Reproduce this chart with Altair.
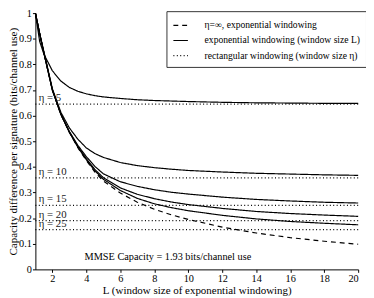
import altair as alt
import pandas as pd

L = [1, 1.25, 1.5, 2, 2.5, 3, 3.5, 4, 4.5, 5, 6, 7, 8, 9, 10, 12, 14, 16, 18, 20]
exp_inf = [1.0, 0.92, 0.845, 0.70, 0.605, 0.535, 0.475, 0.425, 0.38, 0.345, 0.298, 0.262, 0.235, 0.213, 0.195, 0.165, 0.142, 0.124, 0.11, 0.098]
exp_25 = [1.0, 0.92, 0.845, 0.70, 0.605, 0.535, 0.477, 0.428, 0.385, 0.352, 0.308, 0.277, 0.256, 0.241, 0.229, 0.211, 0.197, 0.187, 0.18, 0.174]
exp_20 = [1.0, 0.92, 0.845, 0.70, 0.605, 0.536, 0.479, 0.432, 0.39, 0.358, 0.318, 0.293, 0.276, 0.263, 0.253, 0.238, 0.226, 0.218, 0.212, 0.207]
exp_15 = [1.0, 0.92, 0.845, 0.70, 0.606, 0.538, 0.484, 0.44, 0.402, 0.373, 0.342, 0.324, 0.311, 0.301, 0.294, 0.282, 0.273, 0.267, 0.262, 0.259]
exp_10 = [1.0, 0.922, 0.85, 0.705, 0.613, 0.552, 0.508, 0.474, 0.452, 0.437, 0.417, 0.405, 0.397, 0.391, 0.386, 0.38, 0.375, 0.372, 0.369, 0.367]
exp_5 = [1.0, 0.89, 0.84, 0.775, 0.735, 0.71, 0.695, 0.685, 0.678, 0.673, 0.667, 0.662, 0.659, 0.657, 0.655, 0.652, 0.65, 0.649, 0.648, 0.648]

eta_labels = ["η = 5", "η = 10", "η = 15", "η = 20", "η = 25"]
rect_vals = [0.645, 0.357, 0.25, 0.19, 0.155]

x_ticks = [2, 4, 6, 8, 10, 12, 14, 16, 18, 20]
y_ticks = [0, 0.1, 0.2, 0.3, 0.4, 0.5, 0.6, 0.7, 0.8, 0.9, 1]

kinds = ["η=∞, exponential windowing",
         "exponential windowing (window size L)",
         "rectangular windowing (window size η)"]

rows = []
for name, vals, kind in [("inf", exp_inf, kinds[0]), ("e25", exp_25, kinds[1]),
                         ("e20", exp_20, kinds[1]), ("e15", exp_15, kinds[1]),
                         ("e10", exp_10, kinds[1]), ("e5", exp_5, kinds[1])]:
    for x, v in zip(L, vals):
        rows.append({"L": x, "v": v, "series": name, "kind": kind})
for lab, v in zip(eta_labels, rect_vals):
    for x in (1, 20):
        rows.append({"L": x, "v": v, "series": "r" + lab, "kind": kinds[2]})
df = pd.DataFrame(rows)

lab_df = pd.DataFrame({"L": [1.2] * 5, "v": [r + 0.004 for r in rect_vals], "t": eta_labels})
note_df = pd.DataFrame({"L": [8.8], "v": [0.05], "t": ["MMSE Capacity = 1.93 bits/channel use"]})

FONT = "Liberation Serif"
xs = alt.Scale(domain=[1, 20], nice=False)
ys = alt.Scale(domain=[0, 1], nice=False)
x_axis = alt.Axis(values=x_ticks, labelOverlap=False, titleFontSize=11.2,
                  title="L (window size of exponential windowing)")
y_axis = alt.Axis(values=y_ticks, format="~g", labelOverlap=False, titleFontSize=11.3,
                  title="Capacity difference per signature (bits/channel use)")
X = alt.X("L:Q", scale=xs, axis=x_axis)
Y = alt.Y("v:Q", scale=ys, axis=y_axis)

lines = alt.Chart(df).mark_line(strokeWidth=1.2, color="black").encode(
    x=X, y=Y,
    detail="series:N",
    strokeDash=alt.StrokeDash("kind:N",
        scale=alt.Scale(domain=kinds, range=[[5, 4], [1, 0], [1, 2.5]]),
        sort=kinds,
        legend=alt.Legend(title=None, orient="none", legendX=134, legendY=-2,
                          symbolType="stroke", symbolSize=220, symbolStrokeWidth=1.2,
                          symbolStrokeColor="black", labelOffset=16,
                          labelFont=FONT, labelFontSize=9.8, labelColor="black",
                          strokeColor="#333", fillColor="white", padding=6, rowPadding=1.5,
                          labelLimit=300)),
    order="L:Q",
)

labels = alt.Chart(lab_df).mark_text(align="left", baseline="bottom", font=FONT,
                                     fontSize=11, color="#222").encode(
    x=X, y=Y, text="t:N")

note = alt.Chart(note_df).mark_text(align="center", baseline="middle", font=FONT,
                                    fontSize=10.5, color="black").encode(
    x=X, y=Y, text="t:N")

chart = alt.layer(lines, labels, note).properties(
    width=330, height=262,
    autosize=alt.AutoSizeParams(type="none"),
    padding={"left": 28, "top": 2, "right": 8, "bottom": 26},
).configure_view(stroke=None).configure_axis(
    labelFont=FONT, titleFont=FONT, labelFontSize=10.5, titleFontSize=11,
    titleFontWeight="normal", labelColor="black", titleColor="black",
    domainColor="black", tickColor="black", tickSize=3, grid=False,
    labelPadding=1, labelOverlap=False,
).configure_axisY(titlePadding=0).configure_axisX(titlePadding=1)

chart.save("out.html", embed_options={"renderer": "svg", "actions": False})
